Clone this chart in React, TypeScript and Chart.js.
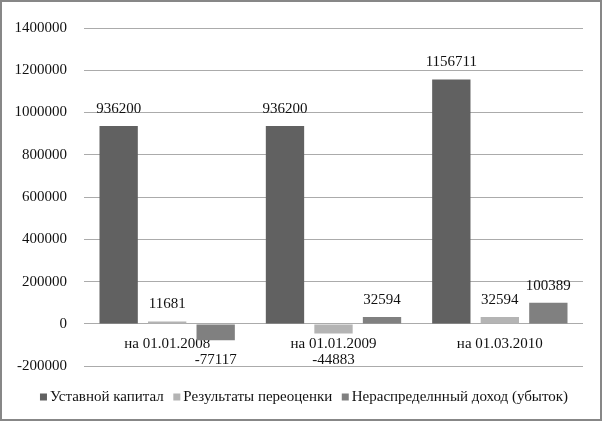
import React, { useEffect, useRef } from "react";
import { Chart, registerables } from "chart.js";

Chart.register(...registerables);

const categories = ["на 01.01.2008", "на 01.01.2009", "на 01.03.2010"];
const seriesNames = [
  "Уставной капитал",
  "Результаты переоценки",
  "Нераспределнный доход (убыток)",
];
const ustavnoy = [936200, 936200, 1156711];
const pereocenka = [11681, -44883, 32594];
const neraspred = [-77117, 32594, 100389];
const seriesColors = ["#616161", "#b4b4b4", "#808080"];
const yMin = -200000;
const yMax = 1400000;
const yStep = 200000;

const FONT = "'Liberation Serif', 'Times New Roman', serif";
const FONT_SIZE = 15;

const labelPlugin = {
  id: "valueLabels",
  afterDatasetsDraw(chart: any) {
    const ctx = chart.ctx;
    const zero = chart.scales.y.getPixelForValue(0);
    ctx.save();
    ctx.font = `${FONT_SIZE}px ${FONT}`;
    ctx.fillStyle = "#111";
    ctx.textAlign = "center";
    ctx.textBaseline = "middle";
    chart.data.datasets.forEach((ds: any, di: number) => {
      const meta = chart.getDatasetMeta(di);
      meta.data.forEach((el: any, i: number) => {
        const v = ds.data[i];
        const y = v >= 0 ? el.y - 17 : Math.max(el.y + 18, zero + 36);
        ctx.fillText(String(v), el.x, y);
      });
    });
    ctx.restore();
  },
};

const legendPlugin = {
  id: "customLegend",
  afterDraw(chart: any) {
    const ctx = chart.ctx;
    ctx.save();
    ctx.font = `${FONT_SIZE}px ${FONT}`;
    ctx.textBaseline = "middle";
    ctx.textAlign = "left";
    const box = 7;
    const gap = 3;
    const itemGap = 9.5;
    const ds = chart.data.datasets;
    const widths = ds.map((d: any) => box + gap + ctx.measureText(d.label).width);
    const total = widths.reduce((a: number, b: number) => a + b, 0) + itemGap * (ds.length - 1);
    let x = (chart.width - total) / 2 + 3;
    const yc = 395;
    ds.forEach((d: any, i: number) => {
      ctx.fillStyle = d.backgroundColor;
      ctx.fillRect(x, yc - box / 2, box, box);
      ctx.fillStyle = "#111";
      ctx.fillText(d.label, x + box + gap, yc);
      x += widths[i] + itemGap;
    });
    ctx.restore();
  },
};

export default function App() {
  const ref = useRef<HTMLCanvasElement | null>(null);
  useEffect(() => {
    document.body.style.margin = "0";
    if (!ref.current) return;
    const data = [ustavnoy, pereocenka, neraspred];
    const chart = new Chart(ref.current, {
      type: "bar",
      data: {
        labels: categories,
        datasets: data.map((d, i) => ({
          label: seriesNames[i],
          data: d,
          backgroundColor: seriesColors[i],
          borderWidth: 0,
          categoryPercentage: 0.875,
          barPercentage: 0.79,
        })),
      },
      options: {
        responsive: false,
        animation: false,
        layout: { padding: { left: 12, right: 17, top: 17.3, bottom: 52.8 } },
        plugins: {
          legend: { display: false },
          tooltip: { enabled: false },
        },
        scales: {
          x: {
            position: { y: 0 } as any,
            grid: { display: false, drawTicks: false },
            border: { display: false },
            ticks: {
              padding: 11,
              color: "#111",
              font: { family: FONT, size: FONT_SIZE },
              maxRotation: 0,
            },
          },
          y: {
            min: yMin,
            max: yMax,
            afterFit(scale: any) {
              scale.width = 70;
            },
            grid: { color: "#ababab", lineWidth: 1, drawTicks: false },
            border: { display: false },
            ticks: {
              stepSize: yStep,
              padding: 17,
              color: "#111",
              font: { family: FONT, size: FONT_SIZE },
              callback: (v: any) => String(v),
            },
          },
        },
      },
      plugins: [labelPlugin, legendPlugin],
    });
    return () => chart.destroy();
  }, []);
  return (
    <div
      style={{
        position: "fixed",
        left: 0,
        top: 0,
        width: 602,
        height: 421,
        boxSizing: "border-box",
        border: "2px solid #878787",
        background: "#fff",
      }}
    >
      <canvas ref={ref} width={598} height={417} style={{ display: "block" }} />
    </div>
  );
}
